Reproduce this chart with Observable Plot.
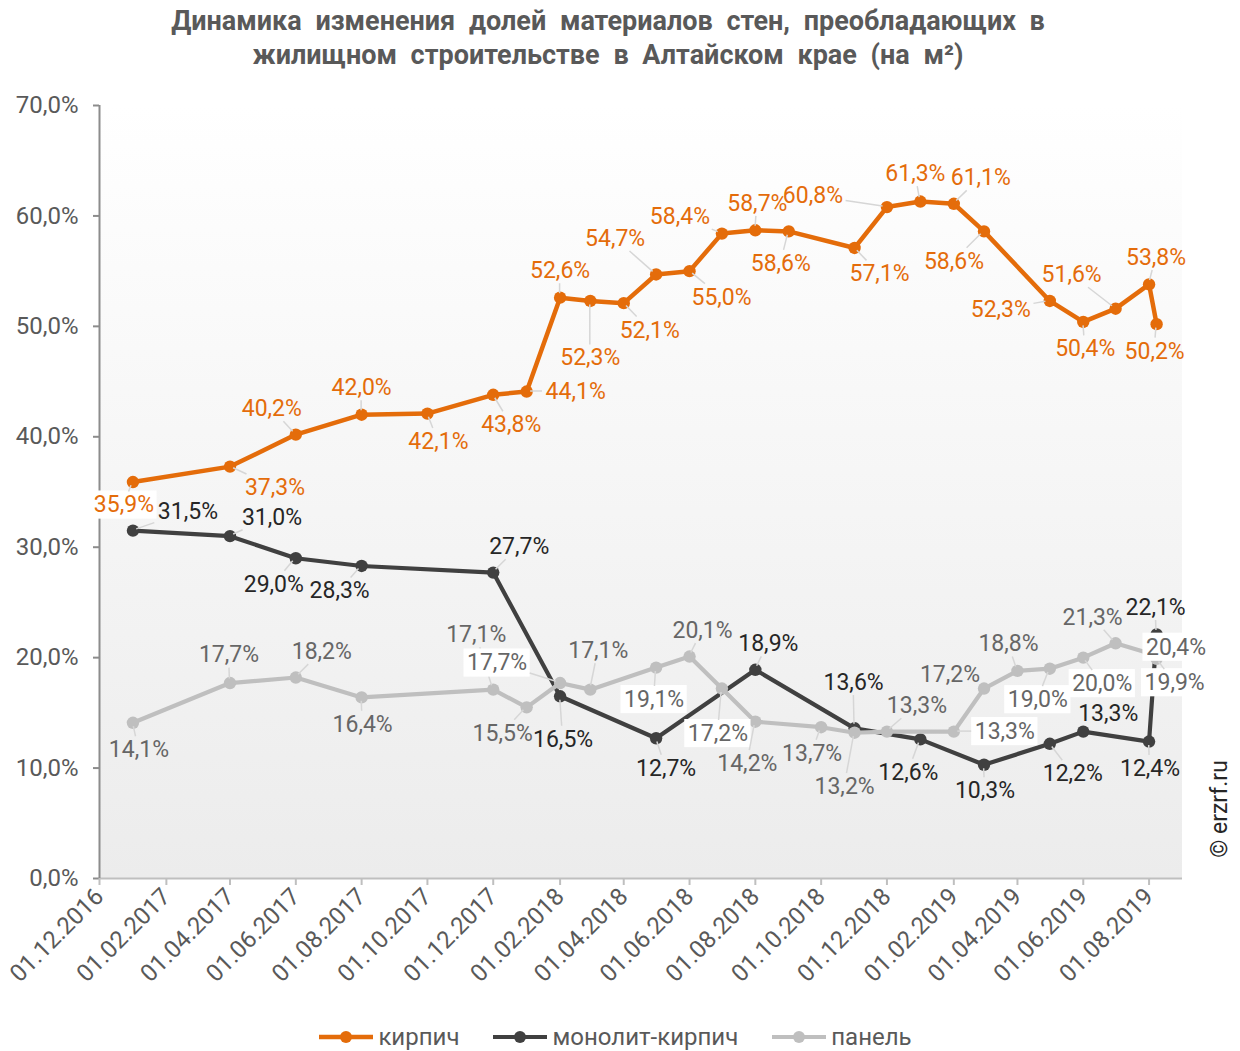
<!DOCTYPE html>
<html><head><meta charset="utf-8">
<script src="https://cdn.jsdelivr.net/npm/d3@7"></script>
<script src="https://cdn.jsdelivr.net/npm/@observablehq/plot@0.6"></script>
<style>
body{margin:0;background:#fff;font-family:Roboto,sans-serif;}
#wrap{position:relative;width:1240px;height:1051px;overflow:hidden;}
#title{position:absolute;top:4px;left:-12px;width:1240px;text-align:center;font-weight:bold;font-size:27px;line-height:34px;color:#595959;word-spacing:7px;}
#chart{position:absolute;top:88px;left:0;}
#legend{position:absolute;top:1023px;left:-5px;width:1240px;display:flex;justify-content:center;gap:33px;font-size:24px;color:#595959;}
#legend .it{display:flex;align-items:center;gap:4px;}
#copy{position:absolute;left:1219px;top:809px;transform:translate(-50%,-50%) rotate(-90deg);font-size:23px;color:#262626;white-space:nowrap;}
</style></head>
<body>
<div id="wrap">
  <div id="title">Динамика изменения долей материалов стен, преобладающих в<br>жилищном строительстве в Алтайском крае (на м²)</div>
  <div id="chart"></div>
  <div id="legend"></div>
  <div id="copy">© erzrf.ru</div>
</div>
<script>
// ---------- data ----------
const seriesNames = ["кирпич", "монолит-кирпич", "панель"];

const brickDates = ["2017-01-01","2017-04-01","2017-06-01","2017-08-01","2017-10-01","2017-12-01","2018-01-01","2018-02-01","2018-03-01","2018-04-01","2018-05-01","2018-06-01","2018-07-01","2018-08-01","2018-09-01","2018-11-01","2018-12-01","2019-01-01","2019-02-01","2019-03-01","2019-05-01","2019-06-01","2019-07-01","2019-08-01","2019-08-08"];
const brickValues = [35.9,37.3,40.2,42.0,42.1,43.8,44.1,52.6,52.3,52.1,54.7,55.0,58.4,58.7,58.6,57.1,60.8,61.3,61.1,58.6,52.3,50.4,51.6,53.8,50.2];

const monoDates = ["2017-01-01","2017-04-01","2017-06-01","2017-08-01","2017-12-01","2018-02-01","2018-05-01","2018-08-01","2018-11-01","2019-01-01","2019-03-01","2019-05-01","2019-06-01","2019-08-01","2019-08-08"];
const monoValues = [31.5,31.0,29.0,28.3,27.7,16.5,12.7,18.9,13.6,12.6,10.3,12.2,13.3,12.4,22.1];

const panelDates = ["2017-01-01","2017-04-01","2017-06-01","2017-08-01","2017-12-01","2018-01-01","2018-02-01","2018-03-01","2018-05-01","2018-06-01","2018-07-01","2018-08-01","2018-10-01","2018-11-01","2018-12-01","2019-02-01","2019-03-01","2019-04-01","2019-05-01","2019-06-01","2019-07-01","2019-08-01","2019-08-08"];
const panelValues = [14.1,17.7,18.2,16.4,17.1,15.5,17.7,17.1,19.1,20.1,17.2,14.2,13.7,13.2,13.3,13.3,17.2,18.8,19.0,20.0,21.3,20.4,19.9];

const xTicks = ["2016-12-01","2017-02-01","2017-04-01","2017-06-01","2017-08-01","2017-10-01","2017-12-01","2018-02-01","2018-04-01","2018-06-01","2018-08-01","2018-10-01","2018-12-01","2019-02-01","2019-04-01","2019-06-01","2019-08-01"];
const yTicks = [0,10,20,30,40,50,60,70];

// ---------- label layout (pixel offsets of data labels from their points) ----------
const brickLabelOffsets = [[-9,23],[45,21],[-24,-26],[0,-27],[11,28],[18,30],[49,0],[0,-27],[0,57],[26,27],[-41,-36],[32,26],[-42,-17],[2,-27],[-8,32],[25,26],[-74,-11],[-5,-28],[27,-26],[-30,30],[-49,9],[2,27],[-44,-34],[7,-27],[-2,27]];
const monoLabelOffsets = [[55,-19],[42,-19],[-22,26],[-22,25],[26,-26],[3,43],[10,30],[13,-26],[-1,-46],[-12,33],[1,26],[23,30],[25,-18],[1,27],[-1,-27]];
const panelLabelOffsets = [[6,27],[-1,-28],[26,-26],[1,27],[-17,-55],[-24,26],[-63,-20],[8,-39],[-2,32],[13,-26],[-4,45],[-8,42],[-9,26],[-10,54],[30,-26],[51,0],[-34,-14],[-9,-27],[-12,31],[19,26],[-23,-26],[27,-6],[18,24]];
const brickLabelBoxed = [0];
const monoLabelBoxed = [];
const panelLabelBoxed = [6,8,10,15,18,19,21,22];

// ---------- styles ----------
const styles = [
  {color:"#E46C0A", label:"#E46C0A", width:4.5},
  {color:"#404040", label:"#262626", width:4.2},
  {color:"#BFBFBF", label:"#666666", width:4.2}
];

const parse = d3.utcParse("%Y-%m-%d");
const fmtPct = v => v.toFixed(1).replace(".", ",") + "%";
const FS = 23;

const raw = [
  [brickDates, brickValues, brickLabelOffsets, brickLabelBoxed],
  [monoDates, monoValues, monoLabelOffsets, monoLabelBoxed],
  [panelDates, panelValues, panelLabelOffsets, panelLabelBoxed]
];
const series = raw.map(([ds, vs, offs, boxed], i) => ({
  name: seriesNames[i],
  ...styles[i],
  rows: ds.map((d, j) => ({date: parse(d), value: vs[j], dx: offs[j][0], dy: offs[j][1], boxed: boxed.includes(j)}))
}));

const marks = [];
for (const s of series) {
  marks.push(Plot.lineY(s.rows, {x: "date", y: "value", stroke: s.color, strokeWidth: s.width, strokeLinejoin: "round"}));
  marks.push(Plot.dot(s.rows, {x: "date", y: "value", r: 6.2, fill: s.color, stroke: "none"}));
}
marks.push(Plot.ruleY([0], {stroke: "#BFBFBF", strokeWidth: 2}));
marks.push(Plot.ruleX([parse(xTicks[0])], {stroke: "#8C8C8C", strokeWidth: 2}));
marks.push(Plot.axisY({ticks: yTicks, tickFormat: fmtPct, label: null, tickSize: 6, tickPadding: 15, stroke: "#8C8C8C", fill: "#595959", fontSize: 24, strokeWidth: 2}));
marks.push(Plot.axisX({ticks: xTicks.map(parse), tickFormat: d3.utcFormat("%d.%m.%Y"), label: null, tickSize: 7, tickPadding: 7, tickRotate: -45, stroke: "#BFBFBF", fill: "#595959", fontSize: 24, strokeWidth: 2}));
for (const s of series) {
  for (const r of s.rows) {
    marks.push(Plot.text([r], {x: "date", y: "value", text: d => fmtPct(d.value), dx: r.dx, dy: r.dy, fill: s.label, fontSize: FS, fontFamily: "Roboto"}));
  }
}

const plot = Plot.plot({
  width: 1240,
  height: 902,
  marginTop: 17,
  marginBottom: 112,
  marginLeft: 99,
  marginRight: 58,
  style: {fontFamily: "Roboto, sans-serif", background: "transparent"},
  x: {type: "utc", domain: [parse("2016-12-01"), parse("2019-09-01")], axis: null},
  y: {domain: [0, 70], axis: null},
  marks
});
document.getElementById("chart").appendChild(plot);

// background gradient, leader lines and label boxes
const ns = "http://www.w3.org/2000/svg";
const svg = d3.select(plot);
const defs = svg.insert("defs", ":first-child");
const grad = defs.append("linearGradient").attr("id", "bgGrad").attr("x1", 0).attr("y1", 0).attr("x2", 0).attr("y2", 1);
grad.append("stop").attr("offset", "0%").attr("stop-color", "#ffffff");
grad.append("stop").attr("offset", "100%").attr("stop-color", "#ececec");
const xs = plot.scale("x"), ys = plot.scale("y");
const x0 = xs.apply(parse("2016-12-01")), x1 = xs.apply(parse("2019-09-01"));
const y0 = ys.apply(70), y1 = ys.apply(0);
const firstMark = plot.querySelector('g[aria-label="line"]');
const bg = document.createElementNS(ns, "rect");
bg.setAttribute("x", x0); bg.setAttribute("y", y0);
bg.setAttribute("width", x1 - x0); bg.setAttribute("height", y1 - y0);
bg.setAttribute("fill", "url(#bgGrad)");
plot.insertBefore(bg, firstMark);

const firstText = plot.querySelector('g[aria-label="text"]');
const ann = document.createElementNS(ns, "g");
plot.insertBefore(ann, firstText);
const a = d3.select(ann);
for (const s of series) {
  for (const r of s.rows) {
    const px = xs.apply(r.date), py = ys.apply(r.value);
    const cx = px + r.dx, cy = py + r.dy;
    const w = FS * 2.62, h = FS * 1.05;
    if (r.boxed) {
      a.append("rect").attr("x", cx - w / 2 - 3).attr("y", cy - h / 2 - 2).attr("width", w + 6).attr("height", h + 4).attr("fill", "#ffffff");
    }
    const hw = w / 2 + 3, hh = h / 2 + 1;
    const sx = r.dx === 0 ? Infinity : hw / Math.abs(r.dx);
    const sy = r.dy === 0 ? Infinity : hh / Math.abs(r.dy);
    const sc = Math.min(sx, sy);
    if (sc < 1) {
      const ex = cx - sc * r.dx, ey = cy - sc * r.dy;
      const len = Math.hypot(ex - px, ey - py);
      if (len > 9) {
        const ux = (ex - px) / len, uy = (ey - py) / len;
        a.append("line").attr("x1", px + ux * 4).attr("y1", py + uy * 4).attr("x2", ex).attr("y2", ey)
          .attr("stroke", "#D6D6D6").attr("stroke-width", 1.5);
      }
    }
  }
}

// legend
const leg = d3.select("#legend");
for (const s of series) {
  const it = leg.append("div").attr("class", "it");
  const sw = it.append("svg").attr("width", 56).attr("height", 16);
  sw.append("line").attr("x1", 1).attr("x2", 55).attr("y1", 8).attr("y2", 8).attr("stroke", s.color).attr("stroke-width", s.width);
  sw.append("circle").attr("cx", 28).attr("cy", 8).attr("r", 6).attr("fill", s.color);
  it.append("span").text(s.name);
}
</script>
</body></html>
